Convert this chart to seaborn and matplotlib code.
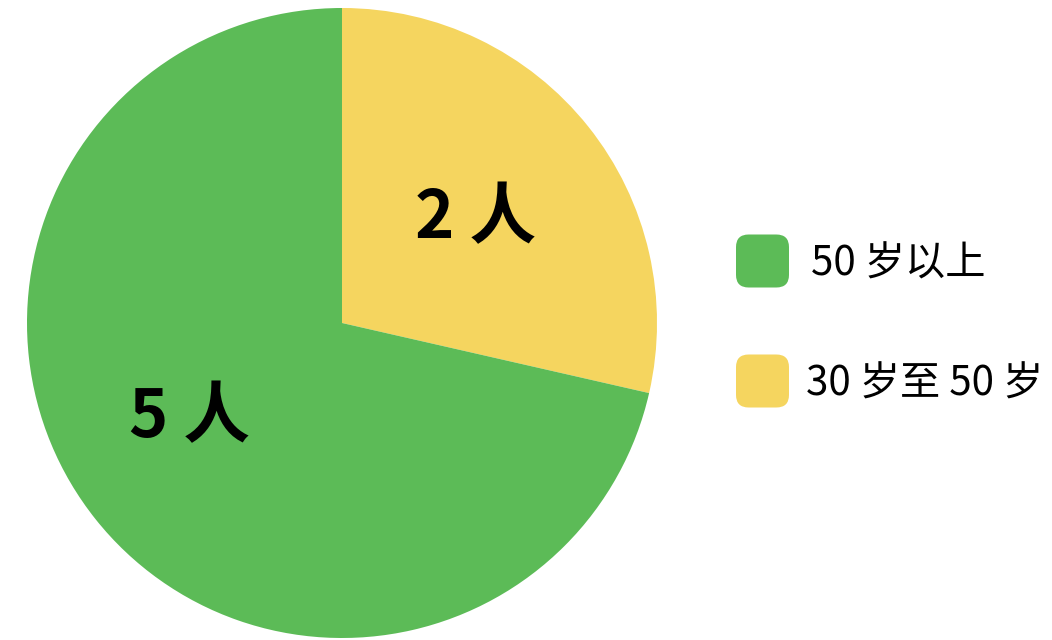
import matplotlib
matplotlib.use("Agg")
import matplotlib.pyplot as plt
from matplotlib.patches import FancyBboxPatch
import seaborn as sns

categories = ["30 岁至 50 岁", "50 岁以上"]
counts = [2, 5]
colors = ["#f5d55f", "#5cbb57"]
legend_order = ["50 岁以上", "30 岁至 50 岁"]

sns.set_theme(style="white")
plt.rcParams['font.family'] = ['Noto Sans CJK SC', 'DejaVu Sans']

fig = plt.figure(figsize=(10.52, 6.4), dpi=100)
ax = fig.add_axes([27/1052, 2/640, 630/1052, 630/640])
total = sum(counts)

wedges, texts, autotexts = ax.pie(
    counts, colors=colors, startangle=90, counterclock=False,
    autopct=lambda p: f"{round(p * total / 100)} 人", pctdistance=0.56,
    textprops=dict(fontsize=48, fontweight="bold", color="black"),
    wedgeprops=dict(linewidth=0), radius=1.0,
)
autotexts[0].set_position((0.425, 0.33))
autotexts[1].set_position((-0.485, -0.30))
ax.set_xlim(-1, 1)
ax.set_ylim(-1, 1)
ax.set_aspect("equal")
ax.axis("off")

cmap = dict(zip(categories, colors))
ys = [264, 384]
xs = [811, 806]
for lab, y, xt in zip(legend_order, ys, xs):
    size = 53
    x0 = 736
    patch = FancyBboxPatch(
        (x0 / 1052, 1 - (y - 3 + size / 2) / 640), size / 1052, size / 640,
        boxstyle="round,pad=0,rounding_size=0.012", transform=fig.transFigure,
        facecolor=cmap[lab], edgecolor="none", mutation_aspect=1052/640,
    )
    fig.patches.append(patch)
    fig.text(xt / 1052, 1 - y / 640, lab, fontsize=29, va="center", ha="left", color="black")

fig.savefig("out.png", dpi=100)
